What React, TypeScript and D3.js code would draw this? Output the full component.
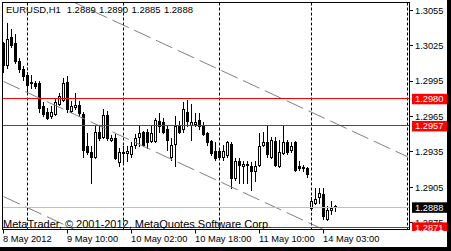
import React from 'react';
import * as d3 from 'd3';

const symbolLabel = 'EURUSD,H1';
const opens = [1.3027,1.3009,1.3032,1.3027,1.3012,1.3005,1.3000,1.2994,1.2993,1.2993,1.2974,1.2969,1.2965,1.2967,1.2976,1.2979,1.2994,1.2970,1.2973,1.2975,1.2967,1.2940,1.2935,1.2931,1.2952,1.2948,1.2966,1.2945,1.2947,1.2926,1.2935,1.2934,1.2933,1.2941,1.2948,1.2952,1.2952,1.2944,1.2944,1.2961,1.2960,1.2954,1.2931,1.2942,1.2957,1.2954,1.2969,1.2958,1.2959,1.2962,1.2957,1.2951,1.2944,1.2936,1.2936,1.2931,1.2932,1.2942,1.2913,1.2927,1.2923,1.2925,1.2923,1.2919,1.2924,1.2941,1.2943,1.2931,1.2944,1.2923,1.2934,1.2943,1.2937,1.2943,1.2923,1.2921,1.2921,1.2887,1.2892,1.2897,1.2899,1.2878,1.2886,1.2889];
const highs = [1.3028,1.3044,1.3039,1.3035,1.3015,1.3008,1.3003,1.3000,1.2995,1.2995,1.2977,1.2972,1.2974,1.2980,1.2985,1.2998,1.2999,1.2978,1.2985,1.2978,1.2969,1.2951,1.2940,1.2958,1.2958,1.2971,1.2970,1.2949,1.2950,1.2938,1.2940,1.2940,1.2943,1.2950,1.2957,1.2953,1.2954,1.2957,1.2964,1.2968,1.2964,1.2957,1.2947,1.2965,1.2961,1.2977,1.2979,1.2976,1.2968,1.2968,1.2960,1.2952,1.2945,1.2943,1.2937,1.2941,1.2944,1.2943,1.2930,1.2930,1.2927,1.2927,1.2926,1.2927,1.2951,1.2952,1.2957,1.2948,1.2948,1.2945,1.2957,1.2945,1.2943,1.2944,1.2927,1.2924,1.2922,1.2897,1.2904,1.2904,1.2904,1.2889,1.2893,1.2890];
const lows = [1.3003,1.3006,1.3024,1.3010,1.3003,1.2996,1.2986,1.2989,1.2989,1.2969,1.2965,1.2963,1.2964,1.2966,1.2975,1.2978,1.2969,1.2969,1.2971,1.2965,1.2931,1.2933,1.2909,1.2930,1.2945,1.2947,1.2945,1.2944,1.2929,1.2923,1.2926,1.2927,1.2931,1.2938,1.2940,1.2940,1.2938,1.2943,1.2943,1.2952,1.2951,1.2937,1.2928,1.2923,1.2951,1.2952,1.2957,1.2945,1.2957,1.2954,1.2949,1.2941,1.2932,1.2928,1.2929,1.2928,1.2931,1.2904,1.2911,1.2909,1.2909,1.2909,1.2903,1.2910,1.2923,1.2940,1.2931,1.2930,1.2923,1.2922,1.2933,1.2933,1.2935,1.2919,1.2920,1.2919,1.2914,1.2886,1.2891,1.2892,1.2878,1.2877,1.2882,1.2885];
const closes = [1.3009,1.3031,1.3026,1.3012,1.3005,1.2999,1.2992,1.2993,1.2991,1.2972,1.2967,1.2964,1.2969,1.2977,1.2982,1.2993,1.2971,1.2974,1.2975,1.2968,1.2937,1.2935,1.2931,1.2952,1.2947,1.2966,1.2947,1.2947,1.2930,1.2935,1.2934,1.2936,1.2940,1.2947,1.2951,1.2941,1.2943,1.2951,1.2962,1.2957,1.2952,1.2945,1.2941,1.2957,1.2952,1.2971,1.2961,1.2960,1.2960,1.2957,1.2950,1.2943,1.2934,1.2930,1.2931,1.2936,1.2943,1.2913,1.2927,1.2924,1.2925,1.2924,1.2919,1.2923,1.2940,1.2943,1.2933,1.2945,1.2924,1.2935,1.2943,1.2935,1.2940,1.2920,1.2921,1.2922,1.2916,1.2893,1.2895,1.2900,1.2881,1.2886,1.2887,1.2888];

const xTickIndex = [0, 16, 32, 48, 64, 80];
const xTickLabels = ['8 May 2012', '9 May 10:00', '10 May 02:00', '10 May 18:00', '11 May 10:00', '14 May 03:00'];
const dayGridIndex = [6, 30, 54, 77, 101];
const yTicks = [1.3055, 1.3025, 1.2995, 1.2965, 1.2935, 1.2905, 1.2875];
const redLevels = [1.2980, 1.2957, 1.2871];
const bidLevel = 1.2888;
const trendA = [[0, 1.30895], [101, 1.29309]];
const trendB = [[0, 1.29947], [101, 1.28361]];
const trendC = [[0, 1.28971], [101, 1.27385]];
const copyright = 'MetaTrader, \u00a9 2001-2012, MetaQuotes Software Corp.';

const W = 451, H = 251;
const L = 2.5, T = 2.5, R = 409.5, B = 229.5;
const FONT = '"Liberation Sans", Arial, sans-serif';

export default function App() {
  const x = d3.scaleLinear().domain([0, 101]).range([3.5, 407.5]);
  const y = d3.scaleLinear().domain([1.2888, 1.2980]).range([207.3, 98.8]);
  const crisp = (v: number) => Math.floor(v) + 0.5;
  const line = d3.line<number[]>().x(d => x(d[0])).y(d => y(d[1]));
  const n = closes.length;
  const last = n - 1;
  const titleVals = [opens[last], highs[last], lows[last], closes[last]];
  const fmt = d3.format('.4f');

  return (
    <svg width={W} height={H} style={{ position: 'absolute', left: 0, top: 0, background: '#fff' }} fontFamily={FONT}>
      <defs>
        <clipPath id="plot"><rect x={L} y={T} width={R - L} height={B - T} /></clipPath>
        <clipPath id="axis"><rect x={R} y={0} width={W - R} height={231} /></clipPath>
      </defs>
      <rect x={0} y={0} width={W} height={H} fill="#fff" />
      <g clipPath="url(#plot)">
        {dayGridIndex.map((d, k) => (
          <line key={'g' + k} x1={x(d)} x2={x(d)} y1={T} y2={B} stroke="#000" strokeWidth={1} strokeDasharray="3,2" />
        ))}
        {closes.map((c, i) => {
          const cx = x(i);
          const o = opens[i];
          const yo = y(o), yc = y(c);
          const top = Math.round(Math.min(yo, yc));
          const bot = Math.round(Math.max(yo, yc));
          const bull = c > o;
          return (
            <g key={'c' + i}>
              <line x1={cx} x2={cx} y1={Math.round(y(highs[i]))} y2={Math.round(y(lows[i])) + 1} stroke="#000" strokeWidth={1} />
              {bull ? (
                <rect x={cx - 1} y={top + 0.5} width={2} height={Math.max(bot - top, 1)} fill="#fff" stroke="#000" strokeWidth={1} />
              ) : (
                <rect x={cx - 1.5} y={top} width={3} height={Math.max(bot - top, 1) + 1} fill="#000" />
              )}
            </g>
          );
        })}
        {[trendA, trendB, trendC].map((t, k) => (
          <path key={'t' + k} d={line(t) || ''} fill="none" stroke="#808080" strokeWidth={1} strokeDasharray="18,6" />
        ))}
        <line x1={L} x2={R} y1={crisp(y(bidLevel))} y2={crisp(y(bidLevel))} stroke="#C0C0C0" strokeWidth={1} />
        {redLevels.map((v, k) => (
          <line key={'r' + k} x1={L} x2={R} y1={crisp(y(v))} y2={crisp(y(v))} stroke="#FF0000" strokeWidth={1.2} />
        ))}
      </g>
      <text x={6} y={13} fontSize={9.5} fill="#000">{symbolLabel}</text>
      {titleVals.map((v, k) => (
        <text key={'tv' + k} x={66.7 + k * 32.4} y={13} fontSize={9.5} fill="#000">{fmt(v)}</text>
      ))}
      <text x={3} y={228} fontSize={11} fill="#000">{copyright}</text>
      <rect x={L} y={T} width={R - L} height={B - T} fill="none" stroke="#000" strokeWidth={1} />
      {yTicks.map((v, k) => (
        <g key={'y' + k}>
          <line x1={R} x2={R + 3.5} y1={crisp(y(v))} y2={crisp(y(v))} stroke="#000" />
          <text x={415} y={y(v) + 3.3} fontSize={9.3} fill="#000">{fmt(v)}</text>
        </g>
      ))}
      <g clipPath="url(#axis)">
        {redLevels.map((v, k) => (
          <g key={'rb' + k}>
            <rect x={412} y={y(v) - 5} width={35} height={10.5} fill="#FF0000" />
            <text x={415} y={y(v) + 3.3} fontSize={9.3} fill="#fff">{fmt(v)}</text>
          </g>
        ))}
        <rect x={412} y={y(bidLevel) - 5} width={35} height={10.5} fill="#000" />
        <text x={415} y={y(bidLevel) + 3.3} fontSize={9.3} fill="#fff">{fmt(bidLevel)}</text>
      </g>
      {xTickIndex.map((d, k) => (
        <g key={'x' + k}>
          <line x1={x(d)} x2={x(d)} y1={B} y2={B + 4} stroke="#000" />
          <text x={x(d) - 0.5} y={242} fontSize={9.3} fill="#000">{xTickLabels[k]}</text>
        </g>
      ))}
      <rect x={447} y={0} width={4} height={H} fill="#000" />
      <rect x={0} y={247} width={W} height={4} fill="#000" />
    </svg>
  );
}
